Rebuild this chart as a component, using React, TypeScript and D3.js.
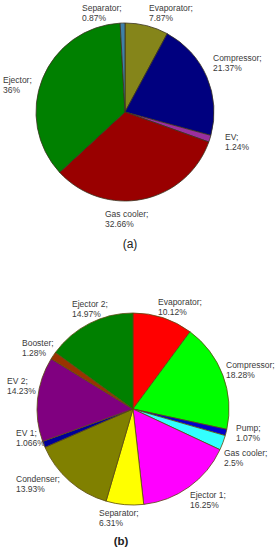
import React from "react";
import * as d3 from "d3";

// (a) components, clockwise from 12 o'clock
const catsA = ["Evaporator", "Compressor", "EV", "Gas cooler", "Ejector", "Separator"];
const valsA = [7.87, 21.37, 1.24, 32.66, 36, 0.87];
const colorsA = ["#85851a", "#00007f", "#9b2f9f", "#990000", "#008000", "#3f80a8"];
// label top-left x, first baseline y
const labelPosA = [[149, 11], [213, 61], [225, 140], [105, 217], [3, 83], [82, 11]];

// (b) components
const catsB = [
  "Evaporator", "Compressor", "Pump", "Gas cooler", "Ejector 1", "Separator",
  "Condenser", "EV 1", "EV 2", "Booster", "Ejector 2",
];
const valsB = [10.12, 18.28, 1.07, 2.5, 16.25, 6.31, 13.93, 1.066, 14.23, 1.28, 14.97];
const colorsB = [
  "#ff0000", "#00ff00", "#0000cc", "#33ffff", "#ff00ff", "#ffff00",
  "#808000", "#000099", "#800080", "#993300", "#008000",
];
const labelPosB = [
  [158, 305], [226, 368], [236, 431], [224, 456], [190, 498], [99, 516],
  [16, 482], [16, 436], [7, 384], [22, 346], [72, 307],
];

const font = "'Liberation Sans', Arial, sans-serif";

type PieProps = {
  cats: string[];
  vals: number[];
  colors: string[];
  labelPos: number[][];
  cx: number;
  cy: number;
  r: number;
  stroke: string;
};

const Pie = ({ cats, vals, colors, labelPos, cx, cy, r, stroke }: PieProps) => {
  const arcs = d3.pie<number>().sort(null).value((d) => d)(vals);
  const arc = d3.arc<d3.PieArcDatum<number>>().innerRadius(0).outerRadius(r);
  return (
    <g>
      <g transform={`translate(${cx},${cy})`}>
        {arcs.map((a, i) => (
          <path key={i} d={arc(a) || ""} fill={colors[i]} stroke={stroke} strokeWidth={0.8} />
        ))}
      </g>
      {cats.map((c, i) => (
        <text
          key={c}
          x={labelPos[i][0]}
          y={labelPos[i][1]}
          fontFamily={font}
          fontSize={8.5}
          fill="#3a3a3a"
        >
          <tspan x={labelPos[i][0]}>{c};</tspan>
          <tspan x={labelPos[i][0]} dy={10}>{`${vals[i]}%`}</tspan>
        </text>
      ))}
    </g>
  );
};

export default function App() {
  return (
    <svg
      width={275}
      height={550}
      style={{ position: "absolute", left: 0, top: 0, background: "#fff" }}
    >
      <Pie
        cats={catsA}
        vals={valsA}
        colors={colorsA}
        labelPos={labelPosA}
        cx={125}
        cy={112}
        r={89}
        stroke="#3a3320"
      />
      <text x={130} y={248} textAnchor="middle" fontFamily={font} fontSize={12} fill="#222">
        (a)
      </text>
      <Pie
        cats={catsB}
        vals={valsB}
        colors={colorsB}
        labelPos={labelPosB}
        cx={133}
        cy={409}
        r={96}
        stroke="#5a4a10"
      />
      <text
        x={121}
        y={545}
        textAnchor="middle"
        fontFamily={font}
        fontSize={11.5}
        fontWeight="bold"
        fill="#222"
      >
        (b)
      </text>
    </svg>
  );
}
